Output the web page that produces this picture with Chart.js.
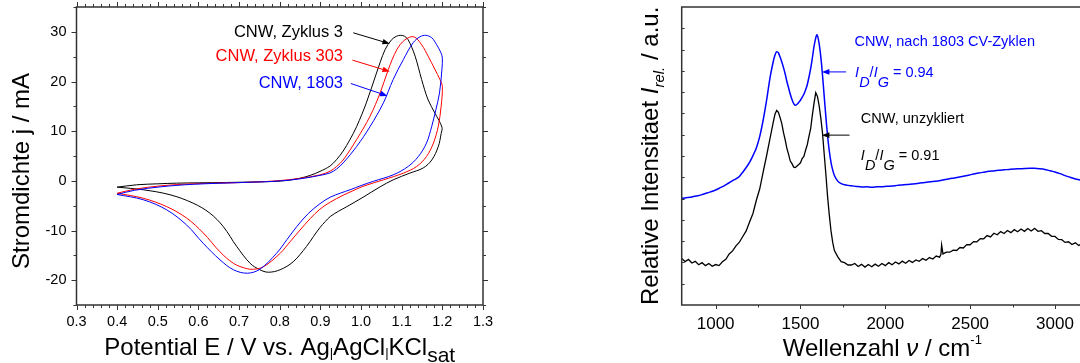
<!DOCTYPE html>
<html><head><meta charset="utf-8">
<script src="https://cdn.jsdelivr.net/npm/chart.js@4.4.1/dist/chart.umd.min.js"></script>
<style>
html,body{margin:0;padding:0;background:#fff;overflow:hidden;width:1080px;height:363px;}
#c1{position:absolute;left:0;top:0;}
#c2{position:absolute;left:540px;top:0;}
</style></head><body>
<canvas id="c1" width="540" height="363"></canvas>
<canvas id="c2" width="560" height="363"></canvas>
<script>
// ---------- CV data (E in V, j in mA) ----------
const cv3E = [0.400,0.448,0.500,0.546,0.600,0.669,0.720,0.783,0.820,0.850,0.875,0.899,0.924,0.940,0.956,0.972,0.989,1.013,1.038,1.059,1.075,1.087,1.0975,1.107,1.116,1.133,1.149,1.165,1.182,1.199,
              1.197,1.190,1.174,1.153,1.120,1.079,1.047,1.005,0.965,0.945,0.924,0.912,0.899,0.883,0.866,0.833,0.801,0.772,0.751,0.727,0.694,0.661,0.628,0.587,0.530,0.464,0.400];
const cv3J = [-1.27,-0.80,-0.60,-0.47,-0.40,-0.33,-0.25,-0.13,0.10,0.53,1.10,1.90,3.0,4.3,6.0,8.2,10.9,15.7,21.7,26.4,28.4,29.1,29.3,29.1,28.4,25.1,20.4,16.3,13.6,10.8,
              9.5,6.9,4.2,2.6,1.55,0.2,-1.2,-3.3,-5.2,-6.1,-7.2,-8.2,-9.4,-11.2,-13.2,-16.3,-17.9,-18.4,-17.9,-16.6,-13.2,-9.2,-6.5,-4.5,-2.8,-1.8,-1.27];
const cv303E = [0.400,0.443,0.508,0.587,0.710,0.792,0.850,0.899,0.924,0.940,0.956,0.989,1.022,1.047,1.067,1.088,1.108,1.130,1.149,1.165,1.182,1.194,1.200,
                1.197,1.190,1.178,1.161,1.137,1.104,1.055,1.005,0.980,0.956,0.924,0.899,0.875,0.850,0.825,0.801,0.760,0.735,0.715,0.686,0.653,0.612,0.571,0.522,0.464,0.400];
const cv303J = [-2.5,-1.7,-1.0,-0.6,-0.33,0.0,0.5,1.2,1.95,2.9,4.2,8.3,13.0,17.7,22.4,26.4,28.4,29.0,27.4,25.1,22.4,20.4,19.0,
                15.0,11.0,7.6,4.9,2.9,1.55,0.2,-1.1,-2.0,-2.9,-4.3,-5.7,-7.6,-9.9,-12.3,-14.6,-17.3,-17.8,-17.6,-16.6,-14.3,-10.5,-7.5,-5.2,-3.5,-2.5];
const cv1803E = [0.400,0.443,0.508,0.587,0.710,0.792,0.850,0.899,0.924,0.940,0.956,0.989,1.022,1.055,1.079,1.104,1.128,1.145,1.159,1.174,1.186,1.197,1.200,
                 1.199,1.193,1.184,1.174,1.161,1.141,1.116,1.079,1.030,1.000,0.973,0.950,0.924,0.899,0.870,0.842,0.818,0.792,0.751,0.720,0.686,0.653,0.612,0.571,0.522,0.464,0.400];
const cv1803J = [-2.75,-1.9,-1.2,-0.7,-0.33,-0.07,0.4,1.1,1.6,2.4,3.6,6.9,10.9,15.7,20.4,24.4,27.8,29.0,29.3,28.8,27.4,25.7,24.7,
                 22.5,17.7,14.3,11.0,7.6,4.9,2.9,1.2,-0.1,-0.95,-1.8,-2.45,-3.3,-4.6,-6.6,-9.2,-11.8,-14.6,-17.8,-18.6,-17.9,-15.9,-12.6,-8.9,-5.85,-3.8,-2.75];
const cvXTickLabels = [0.3,0.4,0.5,0.6,0.7,0.8,0.9,1.0,1.1,1.2,1.3];
const cvYTickLabels = [-20,-10,0,10,20,30];

// ---------- Raman data (wavenumber in cm^-1, relative intensity) ----------
const ramanNuUnz = [800,820,840,860,880,900,920,940,960,980,1000,1020,1040,1060,1080,1100,1120,1140,1160,1180,1200,1220,1240,1260,1280,1300,1320,1340,1350,1360,1370,1380,1390,1400,1410,1420,1430,1440,1450,1460,1470,1480,1490,1500,1510,1520,1530,1540,1550,1560,1570,1580,1590,1600,1610,1620,1630,1640,1650,1660,1670,1680,1690,1700,1720,1740,1760,1780,1800,1820,1840,1860,1880,1900,1920,1940,1960,1980,2000,2020,2040,2060,2080,2100,2120,2140,2160,2180,2200,2220,2240,2260,2280,2300,2320,2328,2332,2340,2360,2380,2400,2420,2440,2460,2480,2500,2520,2540,2560,2580,2600,2620,2640,2660,2680,2700,2720,2740,2760,2780,2800,2820,2840,2860,2880,2900,2920,2940,2960,2980,3000,3020,3040,3060,3080,3100,3120,3140,3160,3180,3200];
const ramanIUnz = [2.19,2.04,2.14,1.97,2.05,1.89,1.99,1.85,1.95,1.82,1.9,1.85,2.03,2.15,2.4,2.54,2.78,2.95,3.22,3.48,3.9,4.3,4.92,5.46,6.24,7.0,7.8,8.6,8.97,9.14,9.05,8.8,8.52,8.1,7.76,7.36,7.08,6.76,6.64,6.48,6.46,6.53,6.6,6.68,6.88,6.98,7.27,7.53,7.92,8.28,8.92,9.48,9.97,9.8,9.37,8.78,8.07,7.08,6.12,5.08,4.22,3.48,2.94,2.56,2.26,2.04,1.99,1.88,1.88,1.95,1.81,1.91,1.78,1.9,1.8,1.92,1.82,1.95,1.85,1.99,1.89,2.02,1.93,2.06,1.96,2.09,2.0,2.12,2.05,2.18,2.1,2.23,2.16,2.3,2.25,2.38,2.82,2.4,2.48,2.48,2.58,2.56,2.7,2.68,2.84,2.83,2.98,2.97,3.12,3.11,3.26,3.2,3.37,3.3,3.45,3.36,3.5,3.4,3.54,3.44,3.57,3.46,3.59,3.48,3.6,3.46,3.49,3.36,3.36,3.23,3.22,3.08,3.07,2.94,2.97,2.84,2.92,2.8,2.88,2.78,2.85];
const ramanNu1803 = [800,825,850,875,900,925,950,975,1000,1025,1050,1075,1100,1120,1140,1160,1180,1200,1220,1240,1260,1280,1300,1320,1340,1350,1360,1370,1380,1390,1400,1410,1420,1430,1440,1450,1460,1470,1480,1490,1500,1510,1520,1530,1540,1550,1560,1570,1580,1590,1597,1605,1615,1625,1635,1645,1655,1665,1675,1685,1700,1720,1740,1760,1780,1800,1830,1860,1890,1920,1950,1980,2010,2040,2070,2100,2130,2160,2190,2220,2250,2280,2310,2340,2370,2400,2430,2460,2490,2520,2550,2580,2610,2640,2670,2700,2730,2760,2790,2820,2850,2880,2910,2940,2970,3000,3030,3060,3090,3120,3150,3180,3200];
const ramanI1803 = [5.0,5.04,5.06,5.11,5.14,5.2,5.26,5.33,5.4,5.5,5.6,5.72,5.84,5.93,6.04,6.24,6.46,6.7,7.02,7.38,7.92,8.68,9.6,10.65,11.45,11.75,11.9,11.85,11.65,11.42,11.15,10.85,10.5,10.2,9.9,9.65,9.46,9.38,9.43,9.52,9.62,9.75,9.9,10.1,10.35,10.7,11.1,11.6,12.15,12.55,12.7,12.5,12.0,11.25,10.3,9.3,8.35,7.55,6.95,6.5,6.08,5.82,5.7,5.65,5.62,5.6,5.57,5.54,5.55,5.53,5.55,5.56,5.58,5.59,5.62,5.64,5.66,5.69,5.71,5.74,5.78,5.8,5.83,5.87,5.92,5.96,6.0,6.05,6.1,6.15,6.2,6.24,6.28,6.3,6.33,6.35,6.37,6.39,6.4,6.41,6.42,6.42,6.4,6.37,6.31,6.25,6.17,6.08,6.0,5.92,5.87,5.82,5.8];
const ramanXTickLabels = [1000,1500,2000,2500,3000];

// ---------- helpers ----------
const FONT = "'Liberation Sans', Arial, Helvetica, sans-serif";
const pts = (xs, ys) => xs.map((x, i) => ({x: x, y: ys[i]}));
function setFont(ctx, p){ ctx.font = (p.italic ? 'italic ' : '') + p.size + 'px ' + FONT; }
function richWidth(ctx, parts){ let w = 0; for (const p of parts){ setFont(ctx, p); w += ctx.measureText(p.t).width; } return w; }
function drawRich(ctx, x, y, parts, align, color){
  const w = richWidth(ctx, parts);
  let cx = align === 'center' ? x - w/2 : (align === 'right' ? x - w : x);
  ctx.textAlign = 'left'; ctx.textBaseline = 'alphabetic';
  for (const p of parts){ setFont(ctx, p); ctx.fillStyle = p.color || color; ctx.fillText(p.t, cx, y + (p.dy || 0)); cx += ctx.measureText(p.t).width; }
}
function arrow(ctx, x1, y1, x2, y2, color){
  const ang = Math.atan2(y2 - y1, x2 - x1), L = 7.5, W = 2.8;
  ctx.strokeStyle = color; ctx.fillStyle = color; ctx.lineWidth = 1;
  ctx.beginPath(); ctx.moveTo(x1, y1); ctx.lineTo(x2 - L*0.6*Math.cos(ang), y2 - L*0.6*Math.sin(ang)); ctx.stroke();
  ctx.beginPath(); ctx.moveTo(x2, y2);
  ctx.lineTo(x2 - L*Math.cos(ang) + W*Math.sin(ang), y2 - L*Math.sin(ang) - W*Math.cos(ang));
  ctx.lineTo(x2 - L*Math.cos(ang) - W*Math.sin(ang), y2 - L*Math.sin(ang) + W*Math.cos(ang));
  ctx.closePath(); ctx.fill();
}
function fixAxis(size, dim){ return s => { s[dim] = size; s.paddingLeft = 0; s.paddingRight = 0; s.paddingTop = 0; s.paddingBottom = 0; }; }
const FRAME = '#333';

// ---------- left chart: cyclic voltammetry ----------
const cvAnno = {
  labels: [
    {t: 'CNW, Zyklus 3', color: '#000', x: 0.9556, y: 28.97, from: [0.981, 29.8], to: [1.071, 27.6]},
    {t: 'CNW, Zyklus 303', color: '#ff0000', x: 0.9556, y: 24.05, from: [0.979, 24.3], to: [1.071, 22.0]},
    {t: 'CNW, 1803', color: '#0000ff', x: 0.9556, y: 18.69, from: [0.975, 19.6], to: [1.065, 17.1]}
  ]
};
const cvPlugin = {
  id: 'cvDeco',
  afterDraw(chart){
    const {ctx, chartArea: a, scales: {x, y}} = chart;
    ctx.save();
    ctx.strokeStyle = FRAME; ctx.lineWidth = 1.5;
    ctx.strokeRect(a.left, a.top, a.right - a.left, a.bottom - a.top);
    ctx.lineWidth = 1;
    ctx.beginPath();
    for (let k = 0; k <= 50; k++){
      const v = 0.3 + k*0.02, px = Math.round(x.getPixelForValue(v)) + 0.5, len = (k % 5 === 0) ? 5 : 3;
      ctx.moveTo(px, a.bottom); ctx.lineTo(px, a.bottom + len);
      ctx.moveTo(px, a.top); ctx.lineTo(px, a.top - len);
    }
    for (let v = -25; v <= 35; v += 5){
      const py = Math.round(y.getPixelForValue(v)) + 0.5, len = (v % 10 === 0) ? 5 : 3;
      ctx.moveTo(a.left, py); ctx.lineTo(a.left - len, py);
      ctx.moveTo(a.right, py); ctx.lineTo(a.right + len, py);
    }
    ctx.stroke();
    // axis titles
    drawRich(ctx, (a.left + a.right)/2, 355, [
      {t: 'Potential E / V vs. Ag', size: 24}, {t: '|', size: 13, dy: 2}, {t: 'AgCl', size: 24},
      {t: '|', size: 13, dy: 2}, {t: 'KCl', size: 24}, {t: 'sat', size: 21, dy: 7}], 'center', '#000');
    ctx.save(); ctx.translate(29, 171); ctx.rotate(-Math.PI/2);
    drawRich(ctx, 0, 0, [{t: 'Stromdichte j / mA', size: 24}], 'center', '#000');
    ctx.restore();
    // annotations
    for (const l of cvAnno.labels){
      drawRich(ctx, x.getPixelForValue(l.x), y.getPixelForValue(l.y), [{t: l.t, size: 16.5}], 'right', l.color);
      arrow(ctx, x.getPixelForValue(l.from[0]), y.getPixelForValue(l.from[1]), x.getPixelForValue(l.to[0]), y.getPixelForValue(l.to[1]), l.color);
    }
    ctx.restore();
  }
};
new Chart(document.getElementById('c1'), {
  type: 'scatter',
  data: { datasets: [
    {data: pts(cv1803E, cv1803J), borderColor: '#0000ff'},
    {data: pts(cv303E, cv303J), borderColor: '#ff0000'},
    {data: pts(cv3E, cv3J), borderColor: '#000000'}
  ].map(d => Object.assign(d, {showLine: true, pointRadius: 0, borderWidth: 1, tension: 0.35, fill: false})) },
  options: {
    responsive: false, animation: false, devicePixelRatio: 1,
    layout: {padding: {left: 0, right: 57, top: 7, bottom: 0}},
    plugins: {legend: {display: false}, tooltip: {enabled: false}},
    scales: {
      x: {type: 'linear', min: 0.3, max: 1.3, grid: {display: false, drawTicks: false}, border: {display: false},
          afterBuildTicks: s => { s.ticks = cvXTickLabels.map(v => ({value: v})); },
          afterFit: fixAxis(58, 'height'),
          ticks: {autoSkip: false, maxRotation: 0, padding: 8, color: '#000', font: {family: FONT, size: 14.5}, callback: v => Number(v).toFixed(1)}},
      y: {type: 'linear', min: -25, max: 35, grid: {display: false, drawTicks: false}, border: {display: false},
          afterBuildTicks: s => { s.ticks = cvYTickLabels.map(v => ({value: v})); },
          afterFit: fixAxis(76.5, 'width'),
          ticks: {autoSkip: false, padding: 10, color: '#000', font: {family: FONT, size: 14.5}, callback: v => String(v)}}
    }
  },
  plugins: [cvPlugin]
});

// ---------- right chart: Raman ----------
const ramanAnno = {
  title1803: {t: 'CNW, nach 1803 CV-Zyklen', x: 1818, y: 12.15, color: '#0000ff'},
  ratio1803: {v: ' = 0.94', x: 1822, y: 10.71, color: '#0000ff'},
  arrow1803: {from: [1769, 10.95], to: [1626, 10.95], color: '#0000ff'},
  titleUnz: {t: 'CNW, unzykliert', x: 1856, y: 8.53, color: '#000'},
  ratioUnz: {v: ' = 0.91', x: 1856, y: 6.80, color: '#000'},
  arrowUnz: {from: [1789, 7.98], to: [1626, 7.98], color: '#000'}
};
const ramanPlugin = {
  id: 'ramanDeco',
  afterDraw(chart){
    const {ctx, chartArea: a, scales: {x, y}} = chart;
    ctx.save();
    ctx.strokeStyle = FRAME; ctx.lineWidth = 1.5;
    ctx.strokeRect(a.left, a.top, a.right - a.left, a.bottom - a.top);
    ctx.lineWidth = 1;
    ctx.beginPath();
    for (let v = 1000; v <= 3200; v += 250){
      const px = Math.round(x.getPixelForValue(v)) + 0.5, len = (v % 500 === 0) ? 4 : 2.5;
      ctx.moveTo(px, a.bottom); ctx.lineTo(px, a.bottom + len);
    }
    for (let v = 1; v < 14; v++){
      const py = Math.round(y.getPixelForValue(v)) + 0.5;
      ctx.moveTo(a.left, py); ctx.lineTo(a.left + 3, py);
    }
    ctx.stroke();
    drawRich(ctx, (a.left + a.right)/2 - 3, 356, [
      {t: 'Wellenzahl ', size: 24}, {t: 'ν', size: 24, italic: true}, {t: ' / cm', size: 24}, {t: '-1', size: 13, dy: -12}], 'center', '#000');
    ctx.save(); ctx.translate(118, a.bottom); ctx.rotate(-Math.PI/2);
    drawRich(ctx, 0, 0, [{t: 'Relative Intensitaet ', size: 24}, {t: 'I', size: 24, italic: true},
      {t: 'rel.', size: 15, italic: true, dy: 6}, {t: ' / a.u.', size: 24}], 'left', '#000');
    ctx.restore();
    const A = ramanAnno, X = v => x.getPixelForValue(v), Y = v => y.getPixelForValue(v);
    drawRich(ctx, X(A.title1803.x), Y(A.title1803.y), [{t: A.title1803.t, size: 14.5}], 'left', A.title1803.color);
    drawRich(ctx, X(A.titleUnz.x), Y(A.titleUnz.y), [{t: A.titleUnz.t, size: 14.5}], 'left', A.titleUnz.color);
    for (const r of [A.ratio1803, A.ratioUnz]){
      drawRich(ctx, X(r.x), Y(r.y), [{t: 'I', size: 14.5, italic: true}, {t: 'D', size: 14.5, italic: true, dy: 10},
        {t: '/', size: 14.5}, {t: 'I', size: 14.5, italic: true}, {t: 'G', size: 14.5, italic: true, dy: 10}, {t: r.v, size: 14.5}], 'left', r.color);
    }
    for (const r of [A.arrow1803, A.arrowUnz]) arrow(ctx, X(r.from[0]), Y(r.from[1]), X(r.to[0]), Y(r.to[1]), r.color);
    ctx.restore();
  }
};
new Chart(document.getElementById('c2'), {
  type: 'scatter',
  data: { datasets: [
    {data: pts(ramanNu1803, ramanI1803), borderColor: '#0000ff', borderWidth: 1.5, tension: 0.2},
    {data: pts(ramanNuUnz, ramanIUnz), borderColor: '#000000', borderWidth: 1.3, tension: 0}
  ].map(d => Object.assign(d, {showLine: true, pointRadius: 0, fill: false})) },
  options: {
    responsive: false, animation: false, devicePixelRatio: 1,
    layout: {padding: {left: 0, right: 11.1, top: 7, bottom: 0}},
    plugins: {legend: {display: false}, tooltip: {enabled: false}},
    scales: {
      x: {type: 'linear', min: 800, max: 3200, grid: {display: false, drawTicks: false}, border: {display: false},
          afterBuildTicks: s => { s.ticks = ramanXTickLabels.map(v => ({value: v})); },
          afterFit: fixAxis(58, 'height'),
          ticks: {autoSkip: false, maxRotation: 0, padding: 9, color: '#000', font: {family: FONT, size: 17}, callback: v => String(v)}},
      y: {type: 'linear', min: 0, max: 14, grid: {display: false, drawTicks: false}, border: {display: false},
          afterFit: fixAxis(141.7, 'width'),
          ticks: {display: false}}
    }
  },
  plugins: [ramanPlugin]
});
</script></body></html>
